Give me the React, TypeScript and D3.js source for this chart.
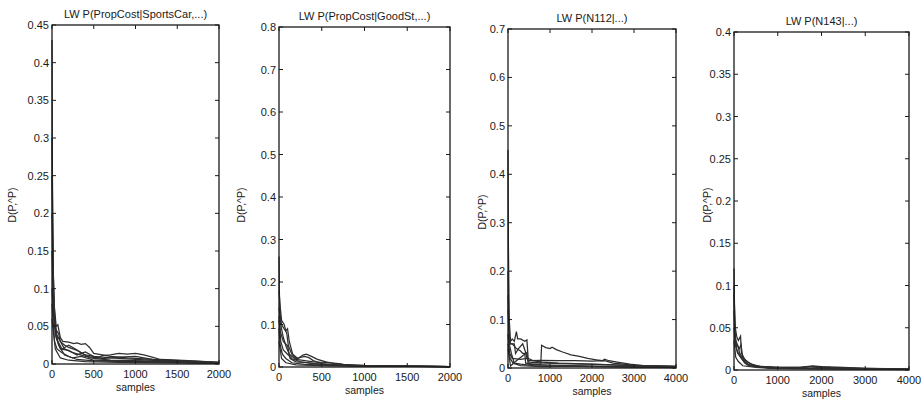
import React from "react";
import * as d3 from "d3";

type Pt = [number, number];

// ---------- Panel titles / axes ----------
const titles = [
  "LW P(PropCost|SportsCar,...)",
  "LW P(PropCost|GoodSt,...)",
  "LW P(N112|...)",
  "LW P(N143|...)",
];
const xMaxes = [2000, 2000, 4000, 4000];
const yMaxes = [0.45, 0.8, 0.7, 0.4];
const xTicks1 = [0, 500, 1000, 1500, 2000];
const xTicks2 = [0, 500, 1000, 1500, 2000];
const xTicks3 = [0, 1000, 2000, 3000, 4000];
const xTicks4 = [0, 1000, 2000, 3000, 4000];
const yTicks1 = [0, 0.05, 0.1, 0.15, 0.2, 0.25, 0.3, 0.35, 0.4, 0.45];
const yTicks2 = [0, 0.1, 0.2, 0.3, 0.4, 0.5, 0.6, 0.7, 0.8];
const yTicks3 = [0, 0.1, 0.2, 0.3, 0.4, 0.5, 0.6, 0.7];
const yTicks4 = [0, 0.05, 0.1, 0.15, 0.2, 0.25, 0.3, 0.35, 0.4];
const xLabel = "samples";
const yLabel = "D(P,^P)";

// ---------- Series (sample, distance) ----------
const p1Series: Pt[][] = [
  [[0,0.43],[5,0.25],[15,0.12],[30,0.06],[50,0.045],[80,0.04],[100,0.03],[150,0.025],[200,0.022],[300,0.018],[400,0.012],[500,0.01],[700,0.008],[1000,0.006],[1500,0.003],[2000,0.002]],
  [[0,0.25],[10,0.15],[25,0.08],[50,0.05],[70,0.052],[100,0.035],[130,0.03],[200,0.029],[260,0.027],[300,0.028],[350,0.026],[400,0.027],[450,0.022],[500,0.014],[600,0.012],[700,0.01],[900,0.008],[1200,0.006],[1600,0.004],[2000,0.002]],
  [[0,0.15],[20,0.07],[50,0.04],[100,0.03],[150,0.02],[250,0.015],[400,0.01],[550,0.008],[600,0.011],[700,0.012],[800,0.014],[900,0.013],[1000,0.014],[1100,0.012],[1200,0.009],[1300,0.006],[1500,0.005],[1700,0.004],[2000,0.002]],
  [[0,0.1],[20,0.06],[50,0.035],[100,0.02],[200,0.018],[300,0.012],[400,0.016],[500,0.01],[600,0.007],[800,0.009],[1000,0.01],[1200,0.006],[1500,0.004],[2000,0.001]],
  [[0,0.2],[15,0.1],[40,0.04],[80,0.025],[150,0.012],[250,0.008],[350,0.01],[500,0.005],[800,0.004],[1200,0.003],[2000,0.001]],
  [[0,0.08],[30,0.03],[60,0.02],[120,0.015],[200,0.01],[300,0.006],[500,0.004],[900,0.003],[1500,0.002],[2000,0.001]],
  [[0,0.3],[8,0.18],[20,0.09],[40,0.05],[70,0.03],[120,0.02],[200,0.025],[280,0.02],[350,0.015],[450,0.008],[700,0.005],[1100,0.004],[2000,0.001]],
  [[0,0.06],[40,0.02],[100,0.008],[200,0.005],[400,0.003],[800,0.002],[2000,0.0008]],
];

const p2Series: Pt[][] = [
  [[0,0.26],[5,0.17],[15,0.12],[30,0.1],[60,0.09],[90,0.08],[110,0.05],[150,0.03],[200,0.02],[300,0.025],[350,0.022],[400,0.015],[500,0.008],[700,0.005],[1000,0.003],[1500,0.002],[2000,0.001]],
  [[0,0.18],[10,0.15],[30,0.11],[60,0.1],[80,0.085],[100,0.09],[120,0.06],[160,0.03],[220,0.02],[280,0.028],[320,0.03],[380,0.025],[450,0.018],[550,0.012],[650,0.008],[750,0.006],[1000,0.004],[2000,0.001]],
  [[0,0.14],[20,0.1],[50,0.07],[80,0.05],[120,0.03],[200,0.018],[300,0.015],[400,0.012],[600,0.01],[700,0.008],[800,0.004],[1200,0.002],[2000,0.001]],
  [[0,0.12],[20,0.06],[50,0.04],[100,0.03],[150,0.02],[250,0.012],[400,0.008],[600,0.005],[1000,0.002],[2000,0.001]],
  [[0,0.09],[15,0.05],[40,0.03],[80,0.02],[150,0.01],[300,0.006],[600,0.003],[2000,0.001]],
  [[0,0.11],[20,0.08],[50,0.06],[100,0.05],[130,0.02],[200,0.012],[350,0.01],[500,0.006],[800,0.003],[2000,0.001]],
  [[0,0.06],[30,0.02],[80,0.01],[200,0.005],[500,0.003],[2000,0.0008]],
];

const p3Series: Pt[][] = [
  [[0,0.45],[10,0.25],[30,0.1],[60,0.055],[100,0.06],[150,0.055],[200,0.075],[230,0.06],[300,0.06],[400,0.055],[450,0.058],[480,0.02],[600,0.015],[800,0.012],[1200,0.01],[2000,0.008],[3000,0.005],[4000,0.004]],
  [[0,0.2],[20,0.08],[50,0.05],[100,0.05],[150,0.045],[200,0.04],[300,0.035],[350,0.03],[400,0.03],[420,0.01],[600,0.008],[780,0.008],[800,0.047],[900,0.042],[1000,0.04],[1050,0.043],[1150,0.038],[1300,0.033],[1500,0.027],[1700,0.024],[1900,0.02],[2100,0.017],[2250,0.015],[2300,0.018],[2400,0.015],[2600,0.012],[2900,0.008],[3200,0.005],[3600,0.004],[4000,0.003]],
  [[0,0.12],[30,0.06],[60,0.05],[150,0.05],[180,0.03],[250,0.04],[350,0.05],[430,0.03],[450,0.02],[500,0.015],[800,0.016],[1200,0.015],[1600,0.015],[2000,0.014],[2300,0.015],[2500,0.01],[3000,0.006],[3500,0.004],[4000,0.003]],
  [[0,0.07],[40,0.03],[100,0.02],[300,0.018],[450,0.02],[500,0.012],[900,0.01],[1300,0.009],[1800,0.008],[2300,0.007],[3000,0.005],[4000,0.003]],
  [[0,0.15],[30,0.05],[80,0.03],[150,0.01],[300,0.008],[600,0.005],[1200,0.004],[2000,0.003],[3000,0.002],[4000,0.002]],
  [[0,0.05],[50,0.02],[120,0.01],[300,0.005],[800,0.003],[1600,0.004],[2400,0.003],[4000,0.001]],
  [[0,0.04],[60,0.004],[200,0.015],[450,0.032],[480,0.008],[1000,0.006],[2000,0.004],[4000,0.002]],
];

const p4Series: Pt[][] = [
  [[0,0.12],[10,0.08],[30,0.05],[60,0.04],[100,0.035],[150,0.04],[170,0.02],[250,0.012],[350,0.008],[500,0.005],[700,0.004],[1000,0.003],[1500,0.003],[1800,0.005],[2000,0.004],[2500,0.003],[3000,0.002],[3500,0.0015],[4000,0.001]],
  [[0,0.09],[15,0.05],[40,0.035],[80,0.03],[120,0.025],[160,0.03],[200,0.015],[300,0.01],[400,0.007],[600,0.004],[900,0.003],[1400,0.002],[1700,0.004],[1900,0.003],[2500,0.002],[4000,0.001]],
  [[0,0.07],[20,0.04],[60,0.025],[100,0.02],[200,0.012],[300,0.006],[500,0.004],[800,0.002],[1200,0.0015],[2000,0.002],[4000,0.0008]],
  [[0,0.05],[30,0.03],[80,0.02],[150,0.015],[250,0.008],[400,0.005],[700,0.003],[1200,0.002],[4000,0.0008]],
  [[0,0.035],[40,0.015],[100,0.01],[200,0.005],[500,0.003],[1000,0.002],[4000,0.0005]],
  [[0,0.1],[20,0.045],[50,0.03],[90,0.028],[130,0.02],[250,0.01],[350,0.006],[600,0.004],[1000,0.003],[1600,0.003],[1800,0.004],[2200,0.003],[3000,0.002],[4000,0.001]],
];

const allSeries = [p1Series, p2Series, p3Series, p4Series];
const allXTicks = [xTicks1, xTicks2, xTicks3, xTicks4];
const allYTicks = [yTicks1, yTicks2, yTicks3, yTicks4];

// ---------- Layout (pixel boxes of each axes) ----------
const boxes = [
  { left: 52, top: 25, right: 219, bottom: 364, ylab: 13, ylabY: 205 },
  { left: 279, top: 27, right: 450, bottom: 367, ylab: 242, ylabY: 205 },
  { left: 508, top: 29, right: 676, bottom: 368, ylab: 483, ylabY: 212 },
  { left: 734, top: 32, right: 909, bottom: 370, ylab: 708, ylabY: 205 },
];

const FONT = "'Liberation Sans', Arial, Helvetica, sans-serif";
const INK = "#1a1a1a";
const LINE = "#2e2e2e";

const fmt = (v: number) => String(+v.toFixed(3));

function Panel({ i }: { i: number }) {
  const b = boxes[i];
  const x = d3.scaleLinear().domain([0, xMaxes[i]]).range([b.left, b.right]);
  const y = d3.scaleLinear().domain([0, yMaxes[i]]).range([b.bottom, b.top]);
  const line = d3
    .line<Pt>()
    .x((d) => x(d[0]))
    .y((d) => y(d[1]));
  const tl = 4;
  const cx = (b.left + b.right) / 2;
  return (
    <g>
      {allSeries[i].map((s, k) => (
        <path key={k} d={line(s) || ""} fill="none" stroke={LINE} strokeWidth={1.25} strokeLinejoin="miter" />
      ))}
      <rect x={b.left} y={b.top} width={b.right - b.left} height={b.bottom - b.top} fill="none" stroke={INK} strokeWidth={1.3} />
      {allXTicks[i].map((t) => (
        <g key={"x" + t}>
          <line x1={x(t)} x2={x(t)} y1={b.bottom} y2={b.bottom - tl} stroke={INK} />
          <line x1={x(t)} x2={x(t)} y1={b.top} y2={b.top + tl} stroke={INK} />
          <text x={x(t)} y={b.bottom + 14} textAnchor="middle" fontSize={11} fontFamily={FONT} fill={INK}>
            {fmt(t)}
          </text>
        </g>
      ))}
      {allYTicks[i].map((t) => (
        <g key={"y" + t}>
          <line x1={b.left} x2={b.left + tl} y1={y(t)} y2={y(t)} stroke={INK} />
          <line x1={b.right} x2={b.right - tl} y1={y(t)} y2={y(t)} stroke={INK} />
          <text x={b.left - 3} y={y(t) + 4} textAnchor="end" fontSize={11} fontFamily={FONT} fill={INK}>
            {fmt(t)}
          </text>
        </g>
      ))}
      <text x={cx} y={b.top - 7} textAnchor="middle" fontSize={11} fontFamily={FONT} fill={INK}>
        {titles[i]}
      </text>
      <text x={cx} y={b.bottom + 27} textAnchor="middle" fontSize={10.5} fontFamily={FONT} fill={INK}>
        {xLabel}
      </text>
      <text
        transform={`translate(${b.ylab},${b.ylabY}) rotate(-90)`}
        textAnchor="middle"
        dominantBaseline="middle"
        fontSize={10.5}
        fontFamily={FONT}
        fill={INK}
      >
        {yLabel}
      </text>
    </g>
  );
}

export default function App() {
  return (
    <svg
      width={922}
      height={405}
      viewBox="0 0 922 405"
      style={{ position: "absolute", left: 0, top: 0, background: "#fff" }}
    >
      <rect x={0} y={0} width={922} height={405} fill="#fff" />
      {[0, 1, 2, 3].map((i) => (
        <Panel key={i} i={i} />
      ))}
    </svg>
  );
}
